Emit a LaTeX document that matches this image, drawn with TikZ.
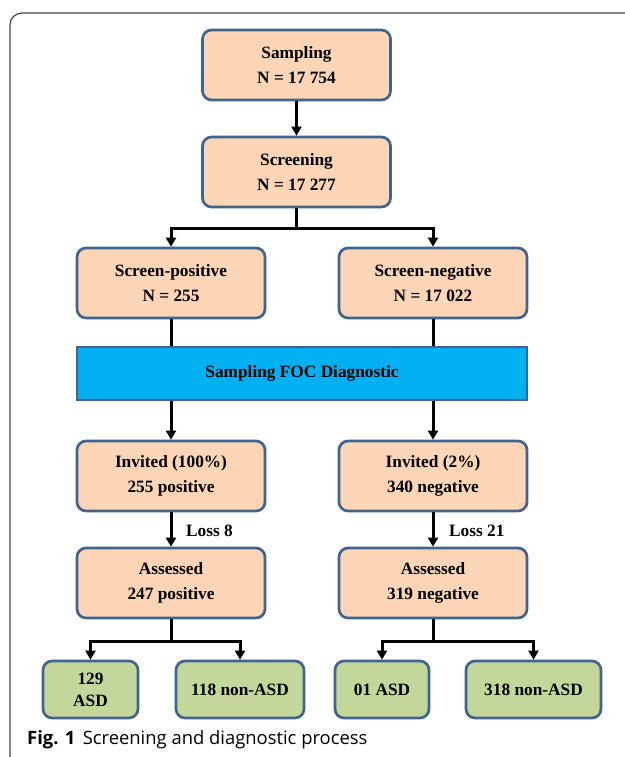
\documentclass[tikz,border=0pt]{standalone}
\usepackage{fontspec}
\setmainfont{Liberation Serif}
\newfontfamily\capfont{Open Sans}
\usetikzlibrary{arrows.meta}
\definecolor{bordercol}{HTML}{41648F}
\definecolor{orangefill}{HTML}{FBD5B5}
\definecolor{greenfill}{HTML}{C4D79B}
\definecolor{bluefill}{HTML}{00B0F0}
\definecolor{framecol}{HTML}{444444}
\tikzset{
  box/.style={rectangle, rounded corners=9pt, draw=bordercol, line width=2.7pt,
    fill=orangefill, minimum width=188pt, minimum height=70pt, align=center,
    inner sep=0pt, font=\bfseries\fontsize{17.3}{24.5}\selectfont},
  gbox/.style={box, fill=greenfill, minimum height=57pt, font=\bfseries\fontsize{17.3}{22}\selectfont},
  bbox/.style={rectangle, draw=bordercol, line width=2.7pt, fill=bluefill,
    minimum width=450pt, minimum height=53pt, inner sep=0pt,
    font=\bfseries\fontsize{17.3}{22}\selectfont},
  conn/.style={line width=3pt, black},
  arr/.style={conn, -{Triangle[length=9pt,width=10pt]}},
  lbl/.style={font=\bfseries\fontsize{17.3}{20}\selectfont, anchor=west, inner sep=0pt}
}
\begin{document}
\begin{tikzpicture}[x=1pt,y=-1pt]
\useasboundingbox (0,0) rectangle (624,757);
% frame
\draw[framecol, line width=1.2pt, rounded corners=12pt] (640,13) -- (10,13) -- (10,768) -- (40,768);
% nodes
\node[box] (samp) at (296.5,65) {Sampling\\N = 17 754};
\node[box] (scr) at (296.5,172) {Screening\\N = 17 277};
\node[box] (sp) at (171,283) {Screen-positive\\N = 255};
\node[box] (sn) at (433,283) {Screen-negative\\N = 17 022};
\node[bbox] (foc) at (302,373.5) {Sampling FOC Diagnostic};
\node[box] (inv1) at (171,476) {Invited (100\%)\\255 positive};
\node[box] (inv2) at (433,476) {Invited (2\%)\\340 negative};
\node[box] (ass1) at (171,583) {Assessed\\247 positive};
\node[box] (ass2) at (433,583) {Assessed\\319 negative};
\node[gbox, minimum width=95pt] (g1) at (90.5,689.5) {129\\ASD};
\node[gbox, minimum width=128pt] (g2) at (240,689.5) {118 non-ASD};
\node[gbox, minimum width=94pt] (g3) at (382,689.5) {01 ASD};
\node[gbox, minimum width=135pt] (g4) at (533.5,689.5) {318 non-ASD};
% connectors
\draw[arr] (samp) -- (scr);
\coordinate (j1) at (296.5,228);
\draw[conn] (scr.south) -- (j1);
\draw[arr] (j1) -| (sp.north);
\draw[arr] (j1) -| (sn.north);
\draw[conn] (sp.south) -- (sp.south |- foc.north);
\draw[conn] (sn.south) -- (sn.south |- foc.north);
\draw[arr] (sp.south |- foc.south) -- (inv1.north);
\draw[arr] (sn.south |- foc.south) -- (inv2.north);
\draw[arr] (inv1) -- (ass1);
\draw[arr] (inv2) -- (ass2);
\node[lbl] (l1) at (186,531) {Loss 8};
\node[lbl] (l2) at (449,531) {Loss 21};
\coordinate (j2) at (171,641);
\coordinate (j3) at (433,641);
\draw[conn] (ass1.south) -- (j2);
\draw[arr] (j2) -| (g1.north);
\draw[arr] (j2) -| (g2.north);
\draw[conn] (ass2.south) -- (j3);
\draw[arr] (j3) -| (g3.north);
\draw[arr] (j3) -| (g4.north);
% caption
\node[anchor=base west, inner sep=0pt, font=\capfont\fontsize{18.4}{20}\selectfont] (cap) at (27,744)
  {\textbf{Fig. 1}\hspace{0.4em}Screening and diagnostic process};
\end{tikzpicture}
\end{document}
